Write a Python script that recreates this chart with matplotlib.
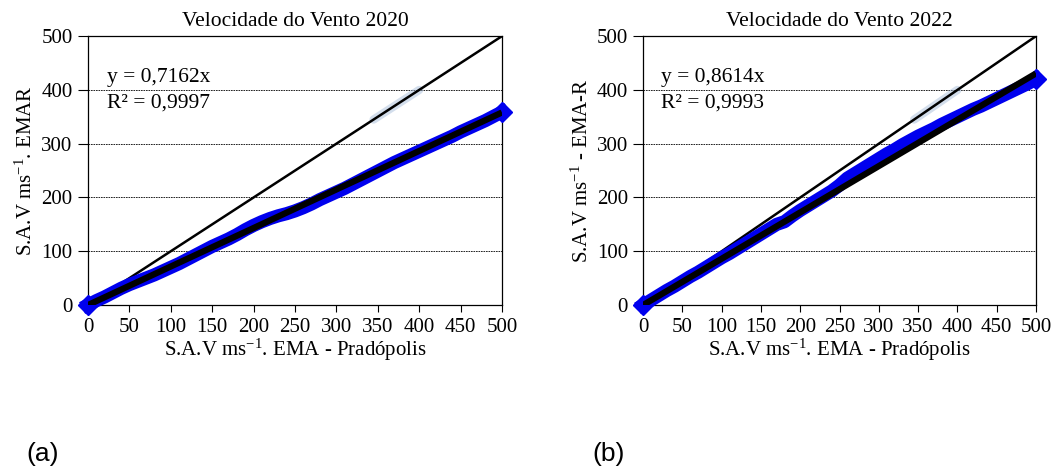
import matplotlib
matplotlib.use('Agg')
import matplotlib.pyplot as plt

plt.rcParams['font.family'] = 'Liberation Serif'
plt.rcParams['mathtext.default'] = 'regular'

#------------------------------- data -------------------------------
x_vals = [0, 10, 20, 30, 40, 50, 60, 70, 80, 90, 100, 110, 120, 130, 140, 150,
          160, 170, 180, 190, 200, 210, 220, 230, 240, 250, 260, 270, 280, 290,
          300, 310, 320, 330, 340, 350, 360, 370, 380, 390, 400, 410, 420, 430,
          440, 450, 460, 470, 480, 490, 500]

y_2020 = [0, 8, 15, 23, 31, 38, 44, 50, 56, 63, 70, 77, 85, 93, 101, 109,
          116, 123, 131, 140, 148, 155, 161, 166, 170, 175, 181, 188, 196, 203,
          210, 217, 225, 233, 241, 249, 257, 265, 272, 279, 286, 293, 300, 307,
          314, 322, 329, 336, 343, 351, 359]

y_2022 = [0, 9, 18, 27, 35, 44, 53, 61, 70, 79, 88, 96, 105, 114, 123, 132,
          141, 150, 155, 166, 176, 185, 194, 203, 212, 223, 236, 245, 254, 263,
          272, 281, 289, 298, 306, 314, 321, 328, 336, 343, 350, 357, 364, 370,
          377, 384, 391, 398, 405, 412, 420]

# faint points lying on the 1:1 line
faint_x = [345, 360, 375, 390, 400]
faint_y = [345, 360, 375, 390, 400]

slope_2020 = 0.7162
slope_2022 = 0.8614

titles = ['Velocidade do Vento 2020', 'Velocidade do Vento 2022']
ylabels = ['S.A.V ms$^{-1}$. EMAR', 'S.A.V ms$^{-1}$ - EMA-R']
xlabel = 'S.A.V ms$^{-1}$. EMA - Pradópolis'
eq1 = ['y = 0,7162x', 'y = 0,8614x']
eq2 = ['R² = 0,9997', 'R² = 0,9993']
ticks = [0, 50, 100, 150, 200, 250, 300, 350, 400, 450, 500]

#------------------------------- plot -------------------------------
fig = plt.figure(figsize=(10.56, 4.70), dpi=100)
ax1 = fig.add_axes([0.0833, 0.351, 0.392, 0.572])
ax2 = fig.add_axes([0.609, 0.351, 0.372, 0.572])

for ax, yv, k, ti, yl, e1, e2 in zip([ax1, ax2], [y_2020, y_2022],
                                      [slope_2020, slope_2022], titles,
                                      ylabels, eq1, eq2):
    for yg in [100, 200, 300, 400]:
        ax.axhline(yg, color='black', lw=0.6, ls=(0, (2, 1)), zorder=0)
    ax.plot([0, 500], [0, 500], color='black', lw=1.8, zorder=2)
    ax.plot(faint_x, faint_y, color='#9fb7d6', lw=6, alpha=0.45,
            solid_capstyle='round', zorder=1)
    ax.plot(x_vals, yv, color='#0000ee', lw=9.5, zorder=3, clip_on=False,
            solid_joinstyle='round')
    ax.plot([x_vals[0], x_vals[-1]], [yv[0], yv[-1]], ls='none', marker='D',
            ms=10, color='#0000ee', zorder=3, clip_on=False)
    ax.plot([0, 500], [0, 500 * k], color='black', lw=4.5, zorder=4,
            solid_capstyle='butt')
    ax.set_xlim(0, 500)
    ax.set_ylim(0, 500)
    ax.set_xticks(ticks)
    ax.set_yticks([0, 100, 200, 300, 400, 500])
    ax.tick_params(axis='y', direction='out', length=7, width=0.8,
                   labelsize=15, pad=4)
    ax.tick_params(axis='x', direction='out', length=5, width=0.8,
                   labelsize=15, pad=4)
    for s in ax.spines.values():
        s.set_linewidth(0.9)
    ax.set_title(ti, fontsize=15.5, pad=7)
    ax.set_xlabel(xlabel, fontsize=15, labelpad=0)
    ax.set_ylabel(yl, fontsize=15, labelpad=3)
    ax.text(23, 414, e1, fontsize=15.5, va='baseline')
    ax.text(23, 368, e2, fontsize=15.5, va='baseline')

fig.text(0.0246, 0.02, '(a)', fontsize=19, family='Liberation Sans')
fig.text(0.5606, 0.02, '(b)', fontsize=19, family='Liberation Sans')

fig.savefig('out.png', dpi=100)
